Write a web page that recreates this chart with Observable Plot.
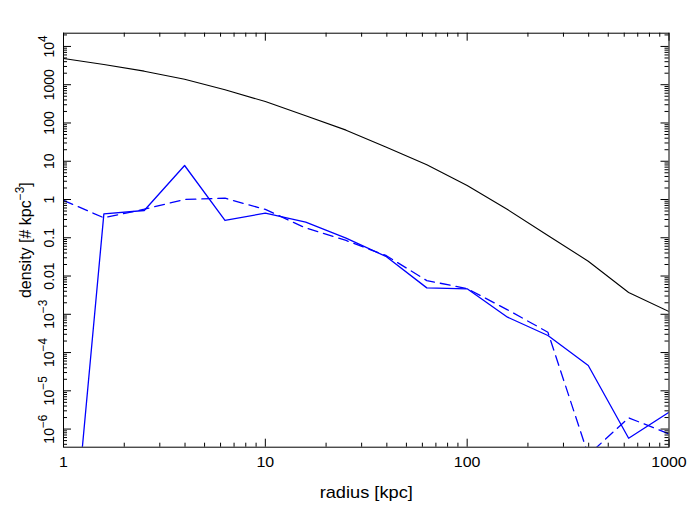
<!DOCTYPE html>
<html><head><meta charset="utf-8">
<script src="https://cdn.jsdelivr.net/npm/d3@7"></script>
<script src="https://cdn.jsdelivr.net/npm/@observablehq/plot@0.6"></script>
<style>html,body{margin:0;padding:0;background:#fff} svg{display:block}</style>
</head><body><div id="chart"></div>
<script>
// radius grid [kpc]
const radius = [1, 1.585, 2.512, 3.981, 6.310, 10, 15.85, 25.12, 39.81, 63.10, 100, 158.5, 251.2, 398.1, 631.0, 1000];
// black solid profile
const densityTotal = [4840, 3370, 2260, 1390, 735, 364, 154, 65, 23.3, 8.07, 2.32, 0.548, 0.115, 0.0244, 0.00371, 0.00118];
// blue solid profile
const densitySolid = [1.5e-12, 0.42, 0.516, 7.74, 0.283, 0.44, 0.255, 0.098, 0.032, 0.0049, 0.00464, 8.4e-4, 2.79e-4, 4.58e-5, 5.77e-7, 2.76e-6];
// blue dashed profile
const densityDashed = [0.95, 0.333, 0.558, 1.0, 1.08, 0.55, 0.18, 0.085, 0.034, 0.0076, 0.0047, 0.00131, 3.4e-4, 2.1e-7, 1.97e-6, 7.5e-7];

const xMajor = [1, 10, 100, 1000];
const xMajorLabels = ["1", "10", "100", "1000"];
const yMajor = [1e4, 1e3, 1e2, 1e1, 1, 1e-1, 1e-2, 1e-3, 1e-4, 1e-5, 1e-6];
const yMajorLabels = ["10^{4}", "1000", "100", "10", "1", "0.1", "0.01", "10^{\u22123}", "10^{\u22124}", "10^{\u22125}", "10^{\u22126}"];
const xTitle = "radius [kpc]";
const yTitle = "density [# kpc^{\u22123}]";

const xDomain = [1, 1000];
const yDomain = [3.36e-7, 2.22e4];

// minor ticks (2..9 per decade)
const xMinor = [];
for (let e = 0; e < 3; e++) for (let k = 2; k <= 9; k++) xMinor.push(k * 10 ** e);
const yMinor = [];
for (let e = -7; e <= 4; e++) for (let k = 2; k <= 9; k++) {
  const v = k * 10 ** e;
  if (v > yDomain[0] && v < yDomain[1]) yMinor.push(v);
}

const W = 693, H = 518;
const mL = 63, mR = 24.5, mT = 32.7, mB = 71.3;
const PW = W - mL - mR, PH = H - mT - mB;

const rows = radius.map((r, i) => ({r, total: densityTotal[i], solid: densitySolid[i], dashed: densityDashed[i]}));
const yLab = yMajor.map((v, i) => ({v, t: yMajorLabels[i]}));
const xLab = xMajor.map((v, i) => ({v, t: xMajorLabels[i]}));

const FONT = "'Liberation Sans', Arial, Helvetica, sans-serif";
const major = 8, minor = 4;

const chart = Plot.plot({
  width: W, height: H,
  marginLeft: mL, marginRight: mR, marginTop: mT, marginBottom: mB,
  style: {fontFamily: FONT, background: "#fff", color: "#000"},
  x: {type: "log", domain: xDomain, axis: null},
  y: {type: "log", domain: yDomain, axis: null},
  marks: [
    Plot.line(rows, {x: "r", y: "total", stroke: "#000", strokeWidth: 1.1, clip: true}),
    Plot.line(rows, {x: "r", y: "solid", stroke: "#0000ff", strokeWidth: 1.3, clip: true}),
    Plot.line(rows, {x: "r", y: "dashed", stroke: "#0000ff", strokeWidth: 1.3, strokeDasharray: "10,6", clip: true}),
    // x ticks (bottom & top, inward)
    Plot.tickX(xMajor, {x: d => d, insetTop: PH - major, stroke: "#000"}),
    Plot.tickX(xMajor, {x: d => d, insetBottom: PH - major, stroke: "#000"}),
    Plot.tickX(xMinor, {x: d => d, insetTop: PH - minor, stroke: "#000"}),
    Plot.tickX(xMinor, {x: d => d, insetBottom: PH - minor, stroke: "#000"}),
    // y ticks (left & right, inward)
    Plot.tickY(yMajor, {y: d => d, insetRight: PW - major, stroke: "#000"}),
    Plot.tickY(yMajor, {y: d => d, insetLeft: PW - major, stroke: "#000"}),
    Plot.tickY(yMinor, {y: d => d, insetRight: PW - minor, stroke: "#000"}),
    Plot.tickY(yMinor, {y: d => d, insetLeft: PW - minor, stroke: "#000"}),
    Plot.frame({stroke: "#000", strokeWidth: 1}),
    // tick labels
    Plot.text(xLab, {x: "v", text: "t", frameAnchor: "bottom", dy: 20, lineAnchor: "bottom", textAnchor: "middle", fontSize: 14, fill: "#000"}),
    Plot.text(yLab, {y: "v", text: "t", frameAnchor: "left", dx: -10, rotate: -90, lineAnchor: "bottom", textAnchor: "middle", fontSize: 14, fill: "#000"}),
    // axis titles
    Plot.text([xTitle], {text: d => d, frameAnchor: "bottom", dy: 51, lineAnchor: "bottom", textAnchor: "middle", fontSize: 16, fill: "#000"}),
    Plot.text([yTitle], {text: d => d, frameAnchor: "left", dx: -33, rotate: -90, lineAnchor: "bottom", textAnchor: "middle", fontSize: 16, fill: "#000"})
  ]
});

// superscripts and horizontal stretch of horizontal text
const NS = "http://www.w3.org/2000/svg";
chart.querySelectorAll("text").forEach(el => {
  const leaves = el.children.length ? Array.from(el.querySelectorAll("tspan")) : [el];
  leaves.forEach(leaf => {
    const s = leaf.textContent;
    if (!s.includes("^{")) return;
    const fs = parseFloat(getComputedStyle(leaf).fontSize) || 14;
    const parts = s.split(/\^\{([^}]*)\}/);
    leaf.textContent = "";
    let raised = false;
    parts.forEach((p, i) => {
      if (p === "") return;
      const t = document.createElementNS(NS, "tspan");
      t.textContent = p;
      if (i % 2 === 1) {
        t.setAttribute("dy", (-0.45 * fs).toFixed(2));
        t.setAttribute("font-size", (0.85 * fs).toFixed(2));
        raised = true;
      } else if (raised) {
        t.setAttribute("dy", (0.45 * fs).toFixed(2));
        raised = false;
      }
      leaf.appendChild(t);
    });
  });
  const tr = el.getAttribute("transform");
  if (tr && !tr.includes("rotate")) el.setAttribute("transform", tr + " scale(1.14,1)");
});

document.getElementById("chart").appendChild(chart);
</script>
</body></html>
